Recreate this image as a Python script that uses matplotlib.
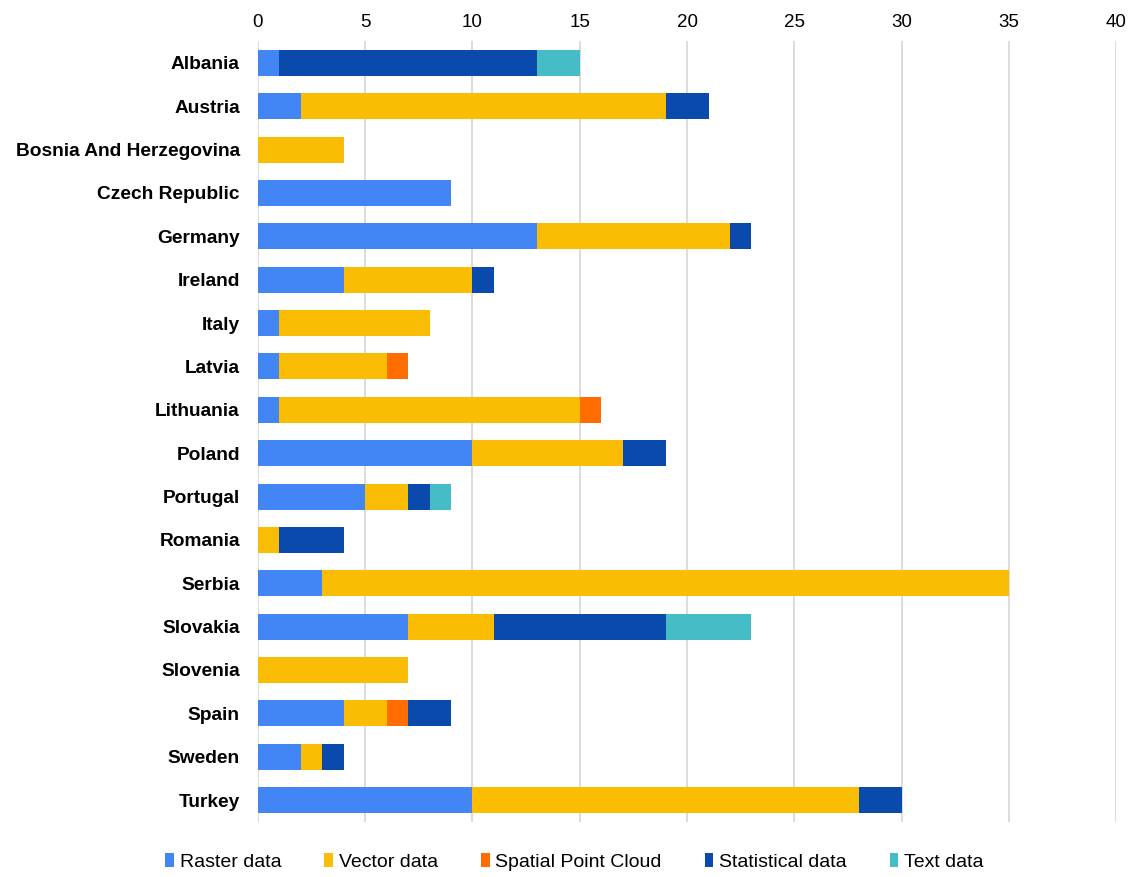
import matplotlib.pyplot as plt
import numpy as np

plt.rcParams['font.family'] = ['Liberation Sans', 'DejaVu Sans']

countries = ["Albania", "Austria", "Bosnia And Herzegovina", "Czech Republic",
             "Germany", "Ireland", "Italy", "Latvia", "Lithuania", "Poland",
             "Portugal", "Romania", "Serbia", "Slovakia", "Slovenia", "Spain",
             "Sweden", "Turkey"]

raster = [1, 2, 0, 9, 13, 4, 1, 1, 1, 10, 5, 0, 3, 7, 0, 4, 2, 10]
vector = [0, 17, 4, 0, 9, 6, 7, 5, 14, 7, 2, 1, 32, 4, 7, 2, 1, 18]
point_cloud = [0, 0, 0, 0, 0, 0, 0, 1, 1, 0, 0, 0, 0, 0, 0, 1, 0, 0]
statistical = [12, 2, 0, 0, 1, 1, 0, 0, 0, 2, 1, 3, 0, 8, 0, 2, 1, 2]
text = [2, 0, 0, 0, 0, 0, 0, 0, 0, 0, 1, 0, 0, 4, 0, 0, 0, 0]

series = [("Raster data", raster, "#4285f4"),
          ("Vector data", vector, "#fbbc04"),
          ("Spatial Point Cloud", point_cloud, "#ff6d01"),
          ("Statistical data", statistical, "#0b4aad"),
          ("Text data", text, "#46bdc6")]

fig = plt.figure(figsize=(11.31, 8.77), dpi=100)
ax = fig.add_axes([0.228, 0.063, 0.759, 0.890])

y = np.arange(len(countries))
left = np.zeros(len(countries))
for name, vals, col in series:
    vals = np.array(vals, dtype=float)
    ax.barh(y, vals, left=left, height=0.6, color=col, label=name, zorder=3)
    left += vals

ax.set_xlim(0, 40)
ax.set_ylim(len(countries) - 0.5, -0.5)
ax.set_xticks(range(0, 41, 5))
ax.xaxis.tick_top()
ax.tick_params(axis='x', length=0, labelsize=13.5, pad=7)
ax.tick_params(axis='y', length=0, pad=13)
ax.set_yticks(y)
ax.set_yticklabels(countries, fontsize=13.8, fontweight='bold')
ax.grid(axis='x', color='#d6d6d6', linewidth=1.2, zorder=0)
for s in ax.spines.values():
    s.set_visible(False)

ax.legend(loc='center', bbox_to_anchor=(0.508, 0.017), bbox_transform=fig.transFigure,
          ncol=5, frameon=False, fontsize=14, handlelength=0.45, handleheight=0.7,
          handletextpad=0.3, columnspacing=2.2)

fig.savefig("out.png", dpi=100)
